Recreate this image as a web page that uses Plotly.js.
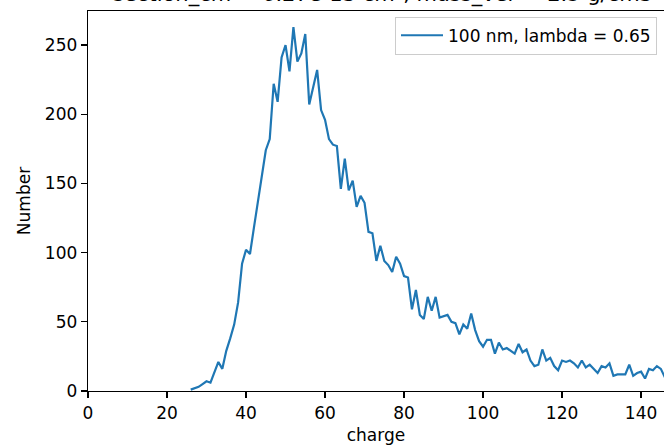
<!DOCTYPE html>
<html>
<head>
<meta charset="utf-8">
<script src="https://cdn.plot.ly/plotly-3.0.1.min.js"></script>
<style>html,body{margin:0;padding:0;background:#fff;}#chart{width:664px;height:445px;}</style>
</head>
<body>
<div id="chart"></div>
<script>
// Data
const charge = [26,27,28,29,30,31,32,33,34,35,36,37,38,39,40,41,42,43,44,45,46,47,48,49,50,51,52,53,54,55,56,57,58,59,60,61,62,63,64,65,66,67,68,69,70,71,72,73,74,75,76,77,78,79,80,81,82,83,84,85,86,87,88,89,90,91,92,93,94,95,96,97,98,99,100,101,102,103,104,105,106,107,108,109,110,111,112,113,114,115,116,117,118,119,120,121,122,123,124,125,126,127,128,129,130,131,132,133,134,135,136,137,138,139,140,141,142,143,144,145,146,147];
const number = [1,2,3,5,7,6,14,21,16,29,38,48,64,92,102,99,118,137,156,174,182,222,209,241,250,231,263,238,244,258,207,220,232,203,196,182,178,177,146,168,145,152,133,141,136,115,114,94,105,94,91,86,97,92,83,82,59,73,55,52,68,58,68,53,54,55,50,49,41,48,45,56,44,36,32,37,37,27,35,30,31,29,27,34,28,30,22,18,19,30,22,24,18,15,22,21,22,20,17,22,17,19,16,13,18,17,20,11,12,12,12,19,11,13,14,9,16,15,18,16,10,12];
const seriesName = "100 nm, lambda = 0.65";
const titleText = "section_cm = 6.27e-13 cm², mass_ver = 2.5 g/cm3";
const xLabel = "charge";
const yLabel = "Number";
const xTicks = [0,20,40,60,80,100,120,140];
const yTicks = [0,50,100,150,200,250];

const font = "DejaVu Sans, Liberation Sans, sans-serif";
const trace = {
  x: charge, y: number, type: "scatter", mode: "lines",
  name: seriesName,
  line: {color: "#1f77b4", width: 2.2},
  showlegend: true
};
const axisCommon = {
  showline: true, linecolor: "#000", linewidth: 1.3,
  ticks: "outside", ticklen: 6, tickwidth: 1.3, tickcolor: "#000",
  showgrid: false, zeroline: false,
  tickfont: {family: font, size: 17, color: "#000"}
};
const layout = {
  width: 664, height: 445,
  paper_bgcolor: "#fff", plot_bgcolor: "#fff",
  margin: {l: 88, r: 0, t: 11, b: 54, autoexpand: false},
  title: {
    text: titleText, font: {family: font, size: 21, color: "#000"},
    xref: "container", x: 383/664, xanchor: "center",
    yref: "container", y: 1 - 0.5/445, yanchor: "bottom"
  },
  xaxis: Object.assign({}, axisCommon, {
    range: [0, 145.8], tickvals: xTicks, mirror: true,
    title: {text: xLabel, font: {family: font, size: 17, color: "#000"}, standoff: 8}
  }),
  yaxis: Object.assign({}, axisCommon, {
    range: [0, 274.6], tickvals: yTicks,
    title: {text: yLabel, font: {family: font, size: 17, color: "#000"}, standoff: 10}
  }),
  legend: {
    x: (395-88)/576, xanchor: "left", y: 0.985, yanchor: "top",
    itemwidth: 42,
    bgcolor: "rgba(255,255,255,0.8)", bordercolor: "#cccccc", borderwidth: 1,
    font: {family: font, size: 17, color: "#000"}
  },
  showlegend: true
};
Plotly.newPlot("chart", [trace], layout, {displayModeBar: false, staticPlot: true});
</script>
</body>
</html>
